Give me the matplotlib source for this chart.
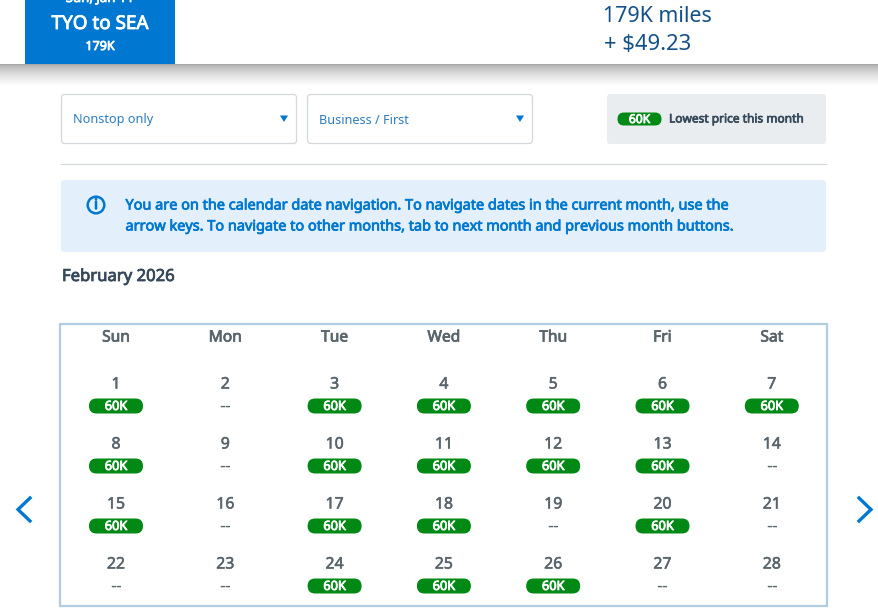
import numpy as np
import matplotlib
matplotlib.use("Agg")
import matplotlib.pyplot as plt
import matplotlib.patheffects as pe
from matplotlib.patches import FancyBboxPatch, Rectangle, Circle, Polygon

plt.rcParams['font.family'] = ['Noto Sans', 'DejaVu Sans']

weekdays = ["Sun", "Mon", "Tue", "Wed", "Thu", "Fri", "Sat"]
days = list(range(1, 29))
prices = ["60K", "--", "60K", "60K", "60K", "60K", "60K",
          "60K", "--", "60K", "60K", "60K", "60K", "--",
          "60K", "--", "60K", "60K", "--", "60K", "--",
          "--", "--", "60K", "60K", "60K", "--", "--"]
month_title = "February 2026"
banner_lines = ["You are on the calendar date navigation. To navigate dates in the current month, use the",
                "arrow keys. To navigate to other months, tab to next month and previous month buttons."]

BLUE = "#0078d2"
GREEN = "#008a15"
GREY = "#59656c"
DARK = "#36495a"
NAVY = "#13508a"

fig = plt.figure(figsize=(8.79, 6.09), dpi=100)
ax = fig.add_axes([0, 0, 1, 1])
ax.set_xlim(0, 879)
ax.set_ylim(609, 0)
ax.axis("off")

def rrect(x, y, w, h, r=3, fc="white", ec="none", lw=1, z=2):
    ax.add_patch(FancyBboxPatch((x + r, y + r), w - 2 * r, h - 2 * r,
                                boxstyle=f"round,pad={r},rounding_size={r}",
                                fc=fc, ec=ec, lw=lw, zorder=z))

def label(x, y, s, color, fs, ha="center", heavy=0.0, z=4, **kw):
    t = ax.text(x, y, s, color=color, fontsize=fs, ha=ha, va="center", zorder=z, **kw)
    if heavy:
        t.set_path_effects([pe.withStroke(linewidth=heavy, foreground=color)])
    return t

def pill(cx, cy, w=54, h=15, fs=9.2):
    rrect(cx - w / 2, cy - h / 2, w, h, r=h / 2 - 0.01, fc=GREEN, z=3)
    label(cx, cy + 0.5, "60K", "white", fs, heavy=0.6)

# header shadow
grad = np.linspace(0, 1, 40) ** 0.6
shade = np.zeros((40, 1, 4))
shade[..., :3] = 0.42
shade[..., 3] = (0.62 * (1 - grad))[:, None]
ax.imshow(shade, extent=(0, 879, 86, 64), aspect="auto", zorder=1, interpolation="bilinear")
ax.set_xlim(0, 879)
ax.set_ylim(609, 0)

# header tile
ax.add_patch(Rectangle((25, 0), 150, 64, fc=BLUE, ec="none", zorder=2))
label(100, -1.5, "Sun, Jan 11", "white", 9.5, heavy=0.5)
label(100, 24, "TYO to SEA", "white", 13.6, heavy=0.6)
label(100, 46.5, "179K", "white", 9.0, heavy=0.6)
label(603, 17, "179K miles", NAVY, 15.4, ha="left")
label(604, 45, "+ $49.23", NAVY, 15.8, ha="left")

# dropdowns
for x, w, txt, ty in [(61, 236, "Nonstop only", 119), (307, 226, "Business / First", 120)]:
    rrect(x + .5, 94.5, w - 1, 49, r=3, fc="white", ec="#d5d8da", lw=0.9)
    label(x + 12, ty, txt, "#2b7cc4", 9.1, ha="left")
    ax.add_patch(Polygon([(x + w - 17, 115.5), (x + w - 9, 115.5), (x + w - 13, 122)],
                         fc=BLUE, ec="none", zorder=3))

# legend box
rrect(607, 94, 219, 50, r=3, fc="#e9edf0")
pill(639.5, 119, w=44, h=13, fs=8.7)
label(669, 119, "Lowest price this month", DARK, 8.6, ha="left", heavy=0.5)

# divider
ax.plot([61, 826], [164, 164], color="#d5d8da", lw=0.9, zorder=2)

# banner
rrect(61, 180, 765, 72, r=4, fc="#e3f0fb")
ax.add_patch(Circle((96, 205), 8.3, fc="none", ec=BLUE, lw=1.8, zorder=3))
label(96, 205.5, "i", BLUE, 10.5, heavy=0.9)
for ly, line in zip((206, 227), banner_lines):
    label(125.5, ly, line, BLUE, 10.42, ha="left", heavy=0.55)

label(62, 277, month_title, DARK, 12, ha="left", heavy=0.55)

# calendar
ax.add_patch(Rectangle((60, 324), 767, 281.5, fc="white", ec="#b3cde0", lw=1.6, zorder=2))
col_x = 116 + 109.3 * np.arange(7)
for cx, wd in zip(col_x, weekdays):
    label(cx, 337.5, wd, GREY, 11.2, heavy=0.55)

for i, (d, p) in enumerate(zip(days, prices)):
    r, c = divmod(i, 7)
    cx = col_x[c]
    label(cx, 384.5 + 60 * r, str(d), GREY, 11.4, heavy=0.4)
    py = 406 + 60 * r
    if p == "--":
        label(cx, py, "--", GREY, 12, family="DejaVu Sans")
    else:
        pill(cx, py)

# arrows
ax.plot([30, 18, 30], [498, 509.5, 521], color=BLUE, lw=2.4, zorder=3, solid_joinstyle="miter")
ax.plot([859, 871, 859], [498, 509.5, 521], color=BLUE, lw=2.4, zorder=3, solid_joinstyle="miter")

fig.savefig("out.png", dpi=100, facecolor="white")
